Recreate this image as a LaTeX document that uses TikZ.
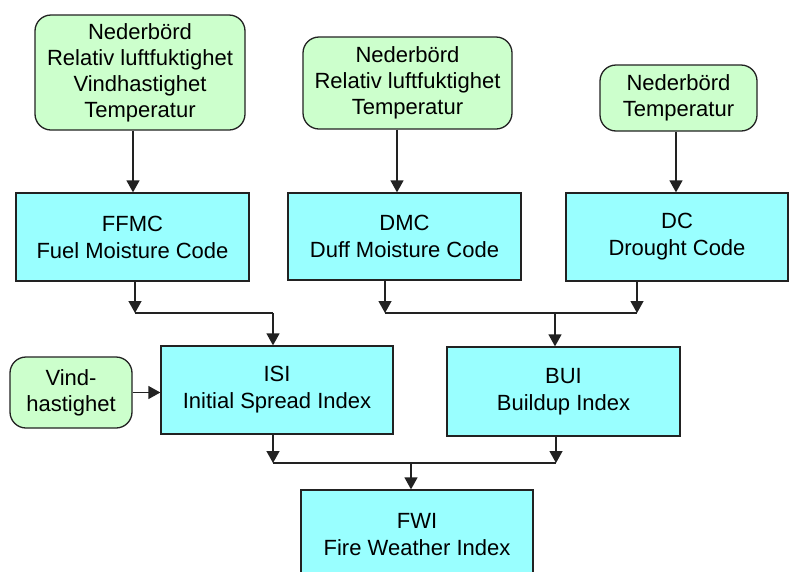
\documentclass[tikz,border=0pt]{standalone}
\usepackage{fontspec}
\setmainfont{Liberation Sans}
\usetikzlibrary{arrows.meta}
\definecolor{gfill}{HTML}{CCFFCC}
\definecolor{cfill}{HTML}{99FFFF}
\definecolor{edge}{HTML}{222222}
\tikzset{
  inbox/.style={draw=edge, line width=1.3pt, fill=gfill, rounded corners=16pt, align=center, inner sep=0pt,
    font=\fontsize{22}{26}\selectfont},
  idxbox/.style={draw=edge, line width=1.3pt, fill=cfill, align=center, inner sep=0pt,
    font=\fontsize{22}{27}\selectfont},
  arr/.style={draw=edge, line width=1.3pt, -{Triangle[length=12pt,width=13pt]}},
  ln/.style={draw=edge, line width=1.3pt}
}
\begin{document}
\begin{tikzpicture}[x=1pt,y=-1pt]
\useasboundingbox (0,0) rectangle (789,571);
\clip (0,0) rectangle (789,571);
\fill[white] (0,0) rectangle (789,571);
% input boxes
\node[inbox, minimum width=210pt, minimum height=115pt] (g1) at (140,72.5) {Nederbörd\\Relativ luftfuktighet\\Vindhastighet\\Temperatur};
\node[inbox, minimum width=209pt, minimum height=92pt] (g2) at (407.5,83) {Nederbörd\\Relativ luftfuktighet\\Temperatur};
\node[inbox, minimum width=157pt, minimum height=66pt] (g3) at (678.5,98) {Nederbörd\\Temperatur};
\node[inbox, minimum width=122pt, minimum height=71pt] (vind) at (71,392.5) {Vind-\\hastighet};
% index boxes
\node[idxbox, minimum width=233pt, minimum height=88pt] (ffmc) at (132.5,237) {FFMC\\Fuel Moisture Code};
\node[idxbox, minimum width=233pt, minimum height=87pt] (dmc) at (404.5,236.5) {DMC\\Duff Moisture Code};
\node[idxbox, minimum width=222pt, minimum height=88pt] (dc) at (677,237) {DC\\Drought Code};
\node[idxbox, minimum width=232pt, minimum height=88pt] (isi) at (277,390) {ISI\\Initial Spread Index};
\node[idxbox, minimum width=233pt, minimum height=89pt] (bui) at (563.5,391.5) {BUI\\Buildup Index};
\node[idxbox, minimum width=232pt, minimum height=90pt] (fwi) at (417,535) {FWI\\Fire Weather Index};
% connector x positions and junctions
\coordinate (xa) at (133,0);
\coordinate (xb) at (397,0);
\coordinate (xc) at (676,0);
\coordinate (ja) at (135,313);
\coordinate (jb) at (273,313);
\coordinate (jc) at (385,313);
\coordinate (jd) at (555,313);
\coordinate (je) at (637,313);
\coordinate (jf) at (273,463);
\coordinate (jg) at (411,463);
\coordinate (jh) at (556,463);
% top arrows
\draw[arr] (xa |- g1.south) -- (xa |- ffmc.north);
\draw[arr] (xb |- g2.south) -- (xb |- dmc.north);
\draw[arr] (xc |- g3.south) -- (xc |- dc.north);
% FFMC -> ISI
\draw[arr] (ja |- ffmc.south) -- (ja);
\draw[ln] (ja) -- (jb);
\draw[arr] (jb) -- (jb |- isi.north);
% DMC, DC -> BUI
\draw[arr] (jc |- dmc.south) -- (jc);
\draw[arr] (je |- dc.south) -- (je);
\draw[ln] (jc) -- (je);
\draw[arr] (jd) -- (jd |- bui.north);
% wind -> ISI
\draw[arr] (vind.east) -- (vind.east -| isi.west);
% ISI, BUI -> FWI
\draw[arr] (jf |- isi.south) -- (jf);
\draw[arr] (jh |- bui.south) -- (jh);
\draw[ln] (jf) -- (jh);
\draw[arr] (jg) -- (jg |- fwi.north);
\end{tikzpicture}
\end{document}
